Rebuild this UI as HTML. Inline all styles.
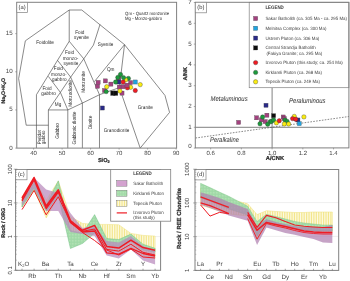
<!DOCTYPE html>
<html><head><meta charset="utf-8"><style>
html,body{margin:0;padding:0;background:#fff;width:350px;height:281px;overflow:hidden}
svg{display:block;will-change:transform}
text{font-family:"Liberation Sans", sans-serif;text-rendering:geometricPrecision}
</style></head><body>
<svg width="350" height="281" viewBox="0 0 350 281">
<rect width="350" height="281" fill="#fff"/>
<defs><pattern id="vh" width="1.7" height="4" patternUnits="userSpaceOnUse"><rect width="1.7" height="4" fill="#fdfbe6"/><rect width="0.75" height="4" fill="#f2e37c"/></pattern><pattern id="gh" width="1.6" height="1.6" patternUnits="userSpaceOnUse"><rect width="1.6" height="1.6" fill="#a2dba8"/><rect width="0.6" height="0.6" fill="#cdeccb"/></pattern><pattern id="gf" width="1.5" height="1.5" patternUnits="userSpaceOnUse"><rect width="1.5" height="1.5" fill="#9fd9a6"/><rect width="0.6" height="0.6" fill="#c8ebc6"/></pattern><clipPath id="clc"><rect x="15.6" y="169.2" width="145" height="101.1"/></clipPath><clipPath id="cld"><rect x="195" y="169.2" width="143.7" height="101.2"/></clipPath></defs>
<polyline points="26.19,125.21 18.64,78.67 25.34,40.82 69.22,10 81.77,10 124.52,44.64 164.98,95.45 169.55,112.39 140.19,148.1" fill="none" stroke="#4a4a4a" stroke-width="0.65" stroke-linejoin="round"/>
<polyline points="26.19,125.21 48.39,125.21" fill="none" stroke="#4a4a4a" stroke-width="0.65" stroke-linejoin="round"/>
<polyline points="36.45,148.1 36.45,94.69 69.22,41.28 69.22,10" fill="none" stroke="#4a4a4a" stroke-width="0.65" stroke-linejoin="round"/>
<polyline points="48.39,148.1 48.39,109.95 60.39,92.4 70.65,77.14 83.76,58.83 93.45,45.09 100,24.49" fill="none" stroke="#4a4a4a" stroke-width="0.65" stroke-linejoin="round"/>
<polyline points="48.39,76.38 60.39,92.4 67.8,109.95" fill="none" stroke="#4a4a4a" stroke-width="0.65" stroke-linejoin="round"/>
<polyline points="57.54,60.35 70.65,77.14 82.39,103.08" fill="none" stroke="#4a4a4a" stroke-width="0.65" stroke-linejoin="round"/>
<polyline points="69.22,41.28 83.76,58.83 99.49,94.69" fill="none" stroke="#4a4a4a" stroke-width="0.65" stroke-linejoin="round"/>
<polyline points="48.39,109.95 67.8,109.95 82.39,103.08 99.49,94.69 119.38,87.59" fill="none" stroke="#4a4a4a" stroke-width="0.65" stroke-linejoin="round"/>
<polyline points="67.8,148.1 67.8,109.95" fill="none" stroke="#4a4a4a" stroke-width="0.65" stroke-linejoin="round"/>
<polyline points="82.39,148.1 82.39,103.08" fill="none" stroke="#4a4a4a" stroke-width="0.65" stroke-linejoin="round"/>
<polyline points="99.49,148.1 99.49,94.69" fill="none" stroke="#4a4a4a" stroke-width="0.65" stroke-linejoin="round"/>
<polyline points="124.52,44.64 94.3,81.72" fill="none" stroke="#4a4a4a" stroke-width="0.65" stroke-linejoin="round"/>
<polyline points="124.52,44.64 119.38,87.59 140.19,148.1" fill="none" stroke="#4a4a4a" stroke-width="0.65" stroke-linejoin="round"/>
<text transform="translate(45,43.4) scale(0.88,1)" font-size="5.3" text-anchor="middle" font-weight="normal" font-style="normal" fill="#2a2a2a" dominant-baseline="central">Foidolite</text>
<text transform="translate(79.8,32.8) scale(0.88,1)" font-size="5.3" text-anchor="middle" font-weight="normal" font-style="normal" fill="#2a2a2a" dominant-baseline="central">Foid</text>
<text transform="translate(81.5,38) scale(0.88,1)" font-size="5.3" text-anchor="middle" font-weight="normal" font-style="normal" fill="#2a2a2a" dominant-baseline="central">syenite</text>
<text transform="translate(69.5,53.4) scale(0.88,1)" font-size="5.3" text-anchor="middle" font-weight="normal" font-style="normal" fill="#2a2a2a" dominant-baseline="central">Foid</text>
<text transform="translate(70.5,58.6) scale(0.88,1)" font-size="5.3" text-anchor="middle" font-weight="normal" font-style="normal" fill="#2a2a2a" dominant-baseline="central">monzo-</text>
<text transform="translate(71,64) scale(0.88,1)" font-size="5.3" text-anchor="middle" font-weight="normal" font-style="normal" fill="#2a2a2a" dominant-baseline="central">syenite</text>
<text transform="translate(58.4,69.4) scale(0.88,1)" font-size="5.3" text-anchor="middle" font-weight="normal" font-style="normal" fill="#2a2a2a" dominant-baseline="central">Foid</text>
<text transform="translate(58.8,74.6) scale(0.88,1)" font-size="5.3" text-anchor="middle" font-weight="normal" font-style="normal" fill="#2a2a2a" dominant-baseline="central">monzo-</text>
<text transform="translate(59.3,79.6) scale(0.88,1)" font-size="5.3" text-anchor="middle" font-weight="normal" font-style="normal" fill="#2a2a2a" dominant-baseline="central">gabbro</text>
<text transform="translate(47,88.9) scale(0.88,1)" font-size="5.3" text-anchor="middle" font-weight="normal" font-style="normal" fill="#2a2a2a" dominant-baseline="central">Foid</text>
<text transform="translate(48.6,94.1) scale(0.88,1)" font-size="5.3" text-anchor="middle" font-weight="normal" font-style="normal" fill="#2a2a2a" dominant-baseline="central">gabbro</text>
<text transform="translate(58,104.7) scale(0.88,1)" font-size="5.3" text-anchor="middle" font-weight="normal" font-style="normal" fill="#2a2a2a" dominant-baseline="central">Mg</text>
<text transform="translate(71,93.4) rotate(-90) scale(0.88,1)" font-size="5.3" text-anchor="middle" font-weight="normal" font-style="normal" fill="#2a2a2a" dominant-baseline="central">Monzodiorite</text>
<text transform="translate(83.6,82) rotate(-90) scale(0.88,1)" font-size="5.3" text-anchor="middle" font-weight="normal" font-style="normal" fill="#2a2a2a" dominant-baseline="central">Monzonite</text>
<text transform="translate(105.6,45.4) scale(0.88,1)" font-size="5.3" text-anchor="middle" font-weight="normal" font-style="normal" fill="#2a2a2a" dominant-baseline="central">Syenite</text>
<text transform="translate(110.7,69.6) scale(0.88,1)" font-size="5.3" text-anchor="middle" font-weight="normal" font-style="normal" fill="#2a2a2a" dominant-baseline="central">Qm</text>
<text transform="translate(145.3,107.6) scale(0.88,1)" font-size="5.3" text-anchor="middle" font-weight="normal" font-style="normal" fill="#2a2a2a" dominant-baseline="central">Granite</text>
<text transform="translate(116.5,131) scale(0.88,1)" font-size="5.3" text-anchor="middle" font-weight="normal" font-style="normal" fill="#2a2a2a" dominant-baseline="central">Granodiorite</text>
<text transform="translate(91.1,122.5) rotate(-90) scale(0.88,1)" font-size="5.3" text-anchor="middle" font-weight="normal" font-style="normal" fill="#2a2a2a" dominant-baseline="central">Diorite</text>
<text transform="translate(75.4,128) rotate(-90) scale(0.88,1)" font-size="5.3" text-anchor="middle" font-weight="normal" font-style="normal" fill="#2a2a2a" dominant-baseline="central">Gabbroic diorite</text>
<text transform="translate(57.8,131) rotate(-90) scale(0.88,1)" font-size="5.3" text-anchor="middle" font-weight="normal" font-style="normal" fill="#2a2a2a" dominant-baseline="central">Gabbro</text>
<text transform="translate(40.3,137.3) rotate(-90) scale(0.9,1)" font-size="4.9" text-anchor="middle" font-weight="normal" font-style="normal" fill="#2a2a2a" dominant-baseline="central">Peridot</text>
<text transform="translate(44.8,137.3) rotate(-90) scale(0.9,1)" font-size="4.9" text-anchor="middle" font-weight="normal" font-style="normal" fill="#2a2a2a" dominant-baseline="central">gabbro</text>
<text transform="translate(125.1,13.1) scale(0.92,1)" font-size="4.6" text-anchor="start" font-weight="normal" font-style="normal" fill="#2a2a2a" dominant-baseline="central">Qm - Quartz monzonite</text>
<text transform="translate(125.1,18.9) scale(0.92,1)" font-size="4.6" text-anchor="start" font-weight="normal" font-style="normal" fill="#2a2a2a" dominant-baseline="central">Mg - Monzo-gabbro</text>
<rect x="16.8" y="2.3" width="159.8" height="145.8" fill="none" stroke="#808080" stroke-width="1"/>
<rect x="16.8" y="2.3" width="10.7" height="10.2" fill="#fff" stroke="#808080" stroke-width="0.7"/>
<text transform="translate(22.15,7.6)" font-size="5.8" text-anchor="middle" font-weight="normal" font-style="normal" fill="#333" dominant-baseline="central">(a)</text>
<line x1="15.2" y1="148.1" x2="16.8" y2="148.1" stroke="#777" stroke-width="0.6"/>
<text transform="translate(12.7,148.1)" font-size="6.2" text-anchor="end" font-weight="normal" font-style="normal" fill="#444" dominant-baseline="central">0</text>
<line x1="15.2" y1="109.95" x2="16.8" y2="109.95" stroke="#777" stroke-width="0.6"/>
<text transform="translate(12.7,109.95)" font-size="6.2" text-anchor="end" font-weight="normal" font-style="normal" fill="#444" dominant-baseline="central">5</text>
<line x1="15.2" y1="71.8" x2="16.8" y2="71.8" stroke="#777" stroke-width="0.6"/>
<text transform="translate(12.7,71.8)" font-size="6.2" text-anchor="end" font-weight="normal" font-style="normal" fill="#444" dominant-baseline="central">10</text>
<line x1="15.2" y1="33.65" x2="16.8" y2="33.65" stroke="#777" stroke-width="0.6"/>
<text transform="translate(12.7,33.65)" font-size="6.2" text-anchor="end" font-weight="normal" font-style="normal" fill="#444" dominant-baseline="central">15</text>
<line x1="33.6" y1="148.1" x2="33.6" y2="149.6" stroke="#777" stroke-width="0.6"/>
<text transform="translate(33.6,154)" font-size="6" text-anchor="middle" font-weight="normal" font-style="normal" fill="#444" dominant-baseline="central">40</text>
<line x1="62.1" y1="148.1" x2="62.1" y2="149.6" stroke="#777" stroke-width="0.6"/>
<text transform="translate(62.1,154)" font-size="6" text-anchor="middle" font-weight="normal" font-style="normal" fill="#444" dominant-baseline="central">50</text>
<line x1="90.6" y1="148.1" x2="90.6" y2="149.6" stroke="#777" stroke-width="0.6"/>
<text transform="translate(90.6,154)" font-size="6" text-anchor="middle" font-weight="normal" font-style="normal" fill="#444" dominant-baseline="central">60</text>
<line x1="119.1" y1="148.1" x2="119.1" y2="149.6" stroke="#777" stroke-width="0.6"/>
<text transform="translate(119.1,154)" font-size="6" text-anchor="middle" font-weight="normal" font-style="normal" fill="#444" dominant-baseline="central">70</text>
<line x1="147.6" y1="148.1" x2="147.6" y2="149.6" stroke="#777" stroke-width="0.6"/>
<text transform="translate(147.6,154)" font-size="6" text-anchor="middle" font-weight="normal" font-style="normal" fill="#444" dominant-baseline="central">80</text>
<line x1="176.1" y1="148.1" x2="176.1" y2="149.6" stroke="#777" stroke-width="0.6"/>
<text transform="translate(176.1,154)" font-size="6" text-anchor="middle" font-weight="normal" font-style="normal" fill="#444" dominant-baseline="central">90</text>
<text x="97.9" y="161.6" font-size="5.6" font-weight="bold" fill="#2a2a2a" stroke="#2a2a2a" stroke-width="0.22">SiO<tspan font-size="3.8" dy="0.9">2</tspan></text>
<text transform="translate(4.9,90.8) rotate(-90)" font-size="5.2" text-anchor="middle" font-weight="bold" fill="#2a2a2a" stroke="#2a2a2a" stroke-width="0.22">Na<tspan font-size="3.6" dy="0.9">2</tspan><tspan dy="-0.9">O+K</tspan><tspan font-size="3.6" dy="0.9">2</tspan><tspan dy="-0.9">O</tspan></text>
<rect x="96.05" y="80.35" width="4.1" height="4.1" fill="#a3417f" stroke="#444" stroke-width="0.3"/>
<rect x="95.45" y="84.25" width="4.1" height="4.1" fill="#a3417f" stroke="#444" stroke-width="0.3"/>
<rect x="103.35" y="78.85" width="4.1" height="4.1" fill="#a3417f" stroke="#444" stroke-width="0.3"/>
<rect x="108.85" y="82.05" width="4.1" height="4.1" fill="#a3417f" stroke="#444" stroke-width="0.3"/>
<rect x="102.45" y="88.45" width="4.1" height="4.1" fill="#a3417f" stroke="#444" stroke-width="0.3"/>
<rect x="117.25" y="85.05" width="4.1" height="4.1" fill="#a3417f" stroke="#444" stroke-width="0.3"/>
<rect x="121.05" y="84.65" width="4.1" height="4.1" fill="#a3417f" stroke="#444" stroke-width="0.3"/>
<rect x="128.55" y="80.55" width="4.1" height="4.1" fill="#a3417f" stroke="#444" stroke-width="0.3"/>
<rect x="119.95" y="91.05" width="4.1" height="4.1" fill="#a3417f" stroke="#444" stroke-width="0.3"/>
<rect x="116.35" y="76.15" width="4.1" height="4.1" fill="#a3417f" stroke="#444" stroke-width="0.3"/>
<rect x="100.35" y="105.95" width="4.1" height="4.1" fill="#2a2a88" stroke="#444" stroke-width="0.3"/>
<rect x="116.75" y="79.95" width="4.1" height="4.1" fill="#2a2a88" stroke="#444" stroke-width="0.3"/>
<rect x="133.25" y="79.95" width="4.1" height="4.1" fill="#1fa3e0" stroke="#444" stroke-width="0.3"/>
<circle cx="120.5" cy="74.5" r="2.2" fill="#1d9a3c" stroke="#333" stroke-width="0.35"/>
<circle cx="117.8" cy="77.5" r="2.2" fill="#1d9a3c" stroke="#333" stroke-width="0.35"/>
<circle cx="128.4" cy="78.4" r="2.2" fill="#1d9a3c" stroke="#333" stroke-width="0.35"/>
<circle cx="106.2" cy="91.6" r="2.2" fill="#1d9a3c" stroke="#333" stroke-width="0.35"/>
<circle cx="115.6" cy="82" r="2.2" fill="#1d9a3c" stroke="#333" stroke-width="0.35"/>
<circle cx="106.7" cy="86.7" r="2.2" fill="#f9ec12" stroke="#333" stroke-width="0.35"/>
<circle cx="125.7" cy="79.9" r="2.2" fill="#f9ec12" stroke="#333" stroke-width="0.35"/>
<circle cx="140.2" cy="84.6" r="2.2" fill="#f9ec12" stroke="#333" stroke-width="0.35"/>
<circle cx="130.6" cy="87.3" r="2.2" fill="#f9ec12" stroke="#333" stroke-width="0.35"/>
<circle cx="123.1" cy="82" r="2.2" fill="#ee1c24" stroke="#333" stroke-width="0.35"/>
<circle cx="127.4" cy="87.8" r="2.2" fill="#ee1c24" stroke="#333" stroke-width="0.35"/>
<circle cx="135.3" cy="90.5" r="2.2" fill="#ee1c24" stroke="#333" stroke-width="0.35"/>
<circle cx="119.9" cy="91" r="2.2" fill="#f9ec12" stroke="#333" stroke-width="0.35"/>
<circle cx="123.5" cy="77.6" r="2.2" fill="#1d9a3c" stroke="#333" stroke-width="0.35"/>
<rect x="124.95" y="83.15" width="4.1" height="4.1" fill="#a3417f" stroke="#444" stroke-width="0.3"/>
<rect x="110.65" y="90.95" width="4.5" height="4.5" fill="#0d0d0d" stroke="#444" stroke-width="0.3"/>
<rect x="113.35" y="90.95" width="4.5" height="4.5" fill="#0d0d0d" stroke="#444" stroke-width="0.3"/>
<line x1="195.3" y1="127.3" x2="349" y2="127.3" stroke="#4a4a4a" stroke-width="0.7"/>
<line x1="272.1" y1="87.7" x2="272.1" y2="147.9" stroke="#4a4a4a" stroke-width="0.7"/>
<line x1="195.5" y1="138" x2="349" y2="116.5" stroke="#555" stroke-width="0.7" stroke-dasharray="1.6,1.3"/>
<text transform="translate(229.1,99.4) scale(0.85,1)" font-size="7" text-anchor="middle" font-weight="normal" font-style="italic" fill="#2a2a2a" dominant-baseline="central">Metaluminous</text>
<text transform="translate(307.3,101.6) scale(0.85,1)" font-size="7" text-anchor="middle" font-weight="normal" font-style="italic" fill="#2a2a2a" dominant-baseline="central">Peraluminous</text>
<text transform="translate(224.5,140.8) scale(0.85,1)" font-size="6.9" text-anchor="middle" font-weight="normal" font-style="italic" fill="#2a2a2a" dominant-baseline="central">Peralkaline</text>
<rect x="236.55" y="120.35" width="4.1" height="4.1" fill="#a3417f" stroke="#444" stroke-width="0.3"/>
<rect x="254.55" y="115.75" width="4.1" height="4.1" fill="#a3417f" stroke="#444" stroke-width="0.3"/>
<rect x="264.85" y="113.15" width="4.1" height="4.1" fill="#a3417f" stroke="#444" stroke-width="0.3"/>
<rect x="259.35" y="117.85" width="4.1" height="4.1" fill="#a3417f" stroke="#444" stroke-width="0.3"/>
<rect x="263.15" y="119.55" width="4.1" height="4.1" fill="#a3417f" stroke="#444" stroke-width="0.3"/>
<rect x="281.15" y="114.95" width="4.1" height="4.1" fill="#a3417f" stroke="#444" stroke-width="0.3"/>
<rect x="282.25" y="116.55" width="4.1" height="4.1" fill="#a3417f" stroke="#444" stroke-width="0.3"/>
<rect x="263.95" y="103.25" width="4.1" height="4.1" fill="#2a2a88" stroke="#444" stroke-width="0.3"/>
<rect x="295.85" y="117.95" width="4.1" height="4.1" fill="#2a2a88" stroke="#444" stroke-width="0.3"/>
<rect x="297.25" y="121.55" width="4.1" height="4.1" fill="#1fa3e0" stroke="#444" stroke-width="0.3"/>
<rect x="271.55" y="113.65" width="4.1" height="4.1" fill="#0d0d0d" stroke="#444" stroke-width="0.3"/>
<circle cx="262.6" cy="117" r="2.2" fill="#1d9a3c" stroke="#333" stroke-width="0.35"/>
<circle cx="260" cy="123.8" r="2.2" fill="#1d9a3c" stroke="#333" stroke-width="0.35"/>
<circle cx="267.7" cy="124.2" r="2.2" fill="#1d9a3c" stroke="#333" stroke-width="0.35"/>
<circle cx="270.3" cy="121.6" r="2.2" fill="#1d9a3c" stroke="#333" stroke-width="0.35"/>
<circle cx="271.4" cy="121.4" r="2.2" fill="#1d9a3c" stroke="#333" stroke-width="0.35"/>
<circle cx="273.6" cy="120" r="2.2" fill="#1d9a3c" stroke="#333" stroke-width="0.35"/>
<circle cx="285" cy="120" r="2.2" fill="#1d9a3c" stroke="#333" stroke-width="0.35"/>
<circle cx="287.1" cy="121.4" r="2.2" fill="#1d9a3c" stroke="#333" stroke-width="0.35"/>
<circle cx="276.4" cy="122.9" r="2.2" fill="#f9ec12" stroke="#333" stroke-width="0.35"/>
<circle cx="284.3" cy="124" r="2.2" fill="#f9ec12" stroke="#333" stroke-width="0.35"/>
<circle cx="288.6" cy="124" r="2.2" fill="#f9ec12" stroke="#333" stroke-width="0.35"/>
<circle cx="294.3" cy="116.4" r="2.2" fill="#f9ec12" stroke="#333" stroke-width="0.35"/>
<circle cx="303.9" cy="116.9" r="2.2" fill="#f9ec12" stroke="#333" stroke-width="0.35"/>
<circle cx="279.3" cy="120.7" r="2.2" fill="#ee1c24" stroke="#333" stroke-width="0.35"/>
<circle cx="292.6" cy="118.6" r="2.2" fill="#ee1c24" stroke="#333" stroke-width="0.35"/>
<circle cx="295.7" cy="119.3" r="2.2" fill="#ee1c24" stroke="#333" stroke-width="0.35"/>
<rect x="249.2" y="2.3" width="99.7" height="85.4" fill="#fff" stroke="#808080" stroke-width="0.7"/>
<text transform="translate(265.4,8.4) scale(0.88,1)" font-size="5" text-anchor="start" font-weight="bold" font-style="normal" fill="#333" dominant-baseline="central">LEGEND</text>
<rect x="253.5" y="16.4" width="4.2" height="4.2" fill="#a3417f" stroke="#444" stroke-width="0.3"/>
<text transform="translate(265.4,18.5) scale(0.95,1)" font-size="4.65" text-anchor="start" font-weight="normal" font-style="normal" fill="#404040" dominant-baseline="central">Sakar Batholith (ca. 305 Ma - ca. 295 Ma)</text>
<rect x="253.5" y="26.2" width="4.2" height="4.2" fill="#1fa3e0" stroke="#444" stroke-width="0.3"/>
<text transform="translate(265.4,28.3) scale(0.95,1)" font-size="4.65" text-anchor="start" font-weight="normal" font-style="normal" fill="#404040" dominant-baseline="central">Melnitsa Complex (ca. 300 Ma)</text>
<rect x="253.5" y="36" width="4.2" height="4.2" fill="#2a2a88" stroke="#444" stroke-width="0.3"/>
<text transform="translate(265.4,38.1) scale(0.95,1)" font-size="4.65" text-anchor="start" font-weight="normal" font-style="normal" fill="#404040" dominant-baseline="central">Ustrem Pluton (ca. 306 Ma)</text>
<rect x="253.5" y="45.8" width="4.2" height="4.2" fill="#0d0d0d" stroke="#444" stroke-width="0.3"/>
<text transform="translate(265.4,47.8) scale(0.95,1)" font-size="4.65" text-anchor="start" font-weight="normal" font-style="normal" fill="#404040" dominant-baseline="central">Central Strandja Batholith</text>
<text transform="translate(266.4,53) scale(0.95,1)" font-size="4.65" text-anchor="start" font-weight="normal" font-style="normal" fill="#404040" dominant-baseline="central">(Fakiya Granite; ca. 295 Ma)</text>
<circle cx="255.6" cy="62.6" r="2.2" fill="#ee1c24" stroke="#333" stroke-width="0.35"/>
<text transform="translate(265.4,62.6) scale(0.95,1)" font-size="4.65" text-anchor="start" font-weight="normal" font-style="normal" fill="#404040" dominant-baseline="central">Izvorovo Pluton (this study; ca. 254 Ma)</text>
<circle cx="255.6" cy="72.4" r="2.2" fill="#1d9a3c" stroke="#333" stroke-width="0.35"/>
<text transform="translate(265.4,72.4) scale(0.95,1)" font-size="4.65" text-anchor="start" font-weight="normal" font-style="normal" fill="#404040" dominant-baseline="central">Kirklareli Pluton (ca. 268 Ma)</text>
<circle cx="255.6" cy="81.8" r="2.2" fill="#f9ec12" stroke="#333" stroke-width="0.35"/>
<text transform="translate(265.4,81.8) scale(0.95,1)" font-size="4.65" text-anchor="start" font-weight="normal" font-style="normal" fill="#404040" dominant-baseline="central">Tepecik Pluton (ca. 249 Ma)</text>
<rect x="195.3" y="2.3" width="153.6" height="145.6" fill="none" stroke="#808080" stroke-width="1"/>
<rect x="195.3" y="2.3" width="11.2" height="10.5" fill="#fff" stroke="#808080" stroke-width="0.7"/>
<text transform="translate(200.9,7.7)" font-size="5.8" text-anchor="middle" font-weight="normal" font-style="normal" fill="#333" dominant-baseline="central">(b)</text>
<line x1="193.8" y1="148.1" x2="195.3" y2="148.1" stroke="#777" stroke-width="0.6"/>
<text transform="translate(191.6,146.9)" font-size="6.2" text-anchor="end" font-weight="normal" font-style="normal" fill="#444" dominant-baseline="central">0</text>
<line x1="193.8" y1="127.3" x2="195.3" y2="127.3" stroke="#777" stroke-width="0.6"/>
<text transform="translate(191.6,127.3)" font-size="6.2" text-anchor="end" font-weight="normal" font-style="normal" fill="#444" dominant-baseline="central">1</text>
<line x1="193.8" y1="106.5" x2="195.3" y2="106.5" stroke="#777" stroke-width="0.6"/>
<text transform="translate(191.6,106.5)" font-size="6.2" text-anchor="end" font-weight="normal" font-style="normal" fill="#444" dominant-baseline="central">2</text>
<line x1="193.8" y1="85.7" x2="195.3" y2="85.7" stroke="#777" stroke-width="0.6"/>
<text transform="translate(191.6,85.7)" font-size="6.2" text-anchor="end" font-weight="normal" font-style="normal" fill="#444" dominant-baseline="central">3</text>
<line x1="193.8" y1="64.9" x2="195.3" y2="64.9" stroke="#777" stroke-width="0.6"/>
<text transform="translate(191.6,64.9)" font-size="6.2" text-anchor="end" font-weight="normal" font-style="normal" fill="#444" dominant-baseline="central">4</text>
<line x1="193.8" y1="44.1" x2="195.3" y2="44.1" stroke="#777" stroke-width="0.6"/>
<text transform="translate(191.6,44.1)" font-size="6.2" text-anchor="end" font-weight="normal" font-style="normal" fill="#444" dominant-baseline="central">5</text>
<line x1="193.8" y1="23.3" x2="195.3" y2="23.3" stroke="#777" stroke-width="0.6"/>
<text transform="translate(191.6,23.3)" font-size="6.2" text-anchor="end" font-weight="normal" font-style="normal" fill="#444" dominant-baseline="central">6</text>
<line x1="193.8" y1="2.5" x2="195.3" y2="2.5" stroke="#777" stroke-width="0.6"/>
<text transform="translate(191.6,2.5)" font-size="6.2" text-anchor="end" font-weight="normal" font-style="normal" fill="#444" dominant-baseline="central">7</text>
<line x1="210.66" y1="147.9" x2="210.66" y2="149.4" stroke="#777" stroke-width="0.6"/>
<text transform="translate(210.66,153.8)" font-size="6" text-anchor="middle" font-weight="normal" font-style="normal" fill="#444" dominant-baseline="central">0.6</text>
<line x1="241.38" y1="147.9" x2="241.38" y2="149.4" stroke="#777" stroke-width="0.6"/>
<text transform="translate(241.38,153.8)" font-size="6" text-anchor="middle" font-weight="normal" font-style="normal" fill="#444" dominant-baseline="central">0.8</text>
<line x1="272.1" y1="147.9" x2="272.1" y2="149.4" stroke="#777" stroke-width="0.6"/>
<text transform="translate(272.1,153.8)" font-size="6" text-anchor="middle" font-weight="normal" font-style="normal" fill="#444" dominant-baseline="central">1.0</text>
<line x1="302.82" y1="147.9" x2="302.82" y2="149.4" stroke="#777" stroke-width="0.6"/>
<text transform="translate(302.82,153.8)" font-size="6" text-anchor="middle" font-weight="normal" font-style="normal" fill="#444" dominant-baseline="central">1.2</text>
<line x1="333.54" y1="147.9" x2="333.54" y2="149.4" stroke="#777" stroke-width="0.6"/>
<text transform="translate(333.54,153.8)" font-size="6" text-anchor="middle" font-weight="normal" font-style="normal" fill="#444" dominant-baseline="central">1.4</text>
<text transform="translate(274.9,159.3)" font-size="5.8" text-anchor="middle" font-weight="bold" font-style="normal" fill="#2a2a2a" dominant-baseline="central" stroke="#2a2a2a" stroke-width="0.22">A/CNK</text>
<text transform="translate(185.7,73.8) rotate(-90)" font-size="5.5" text-anchor="middle" font-weight="bold" font-style="normal" fill="#2a2a2a" dominant-baseline="central" stroke="#2a2a2a" stroke-width="0.22">A/NK</text>
<line x1="15.6" y1="203" x2="160.6" y2="203" stroke="#e2e2e2" stroke-width="0.6"/>
<line x1="15.6" y1="236.6" x2="160.6" y2="236.6" stroke="#e2e2e2" stroke-width="0.6"/>
<g clip-path="url(#clc)">
<polygon points="22,197 34.1,178 46.2,200 58.3,181 70.4,216.6 82.5,223.4 94.6,224.4 106.7,224.4 118.8,224.8 130.9,233.4 143,235.4 155.1,236.1 155.1,258 143,256 130.9,247 118.8,252 106.7,250 94.6,232 82.5,236 70.4,232 58.3,197 46.2,218 34.1,190 22,207" fill="url(#vh)" stroke="#efe07a" stroke-width="0.5"/>
<polygon points="22,202 34.1,183 46.2,205 58.3,180.8 70.4,230.5 82.5,233.2 94.6,214.6 106.7,238.5 118.8,239.5 130.9,234.1 143,244.2 155.1,248.3 155.1,252 143,250 130.9,241 118.8,247 106.7,245 94.6,233.2 82.5,243.5 70.4,248.5 58.3,196 46.2,211 34.1,189 22,207" fill="url(#gf)" stroke="#62b87a" stroke-width="0.4"/>
<polygon points="22,199 34.1,177.8 46.2,189.6 58.3,193 70.4,213 82.5,228 94.6,226 106.7,241 118.8,242.5 130.9,236 143,246 155.1,250 155.1,264.5 143,260.4 130.9,249.5 118.8,258.4 106.7,255.4 94.6,236 82.5,234 70.4,232 58.3,211 46.2,211 34.1,188.6 22,206" fill="#b889bd" opacity="0.72"/>
<polyline points="22,209.6 34.1,190.4 46.2,214.9 58.3,196.8 70.4,222 82.5,232.5 94.6,240.5 106.7,250 118.8,255 130.9,249 143,257 155.1,258" fill="none" stroke="#ee1c24" stroke-width="1.0" stroke-linejoin="round"/>
<polyline points="22,198 34.1,177.5 46.2,206 58.3,189.8 70.4,220.5 82.5,230.3 94.6,225.4 106.7,246.4 118.8,248.1 130.9,240.2 143,247.6 155.1,250.3" fill="none" stroke="#ee1c24" stroke-width="1.5" stroke-linejoin="round"/>
<polyline points="22,199.3 34.1,178.8 46.2,207.3 58.3,190.8 70.4,221.5 82.5,231.3 94.6,229 106.7,249.4 118.8,251.1 130.9,244.2 143,252.3 155.1,255" fill="none" stroke="#ee1c24" stroke-width="1.0" stroke-linejoin="round"/>
<polyline points="22,200.8 34.1,180 46.2,208.6 58.3,192 70.4,222.5 82.5,232 94.6,231 106.7,252.9 118.8,254.1 130.9,248.3 143,253.5 155.1,256" fill="none" stroke="#ee1c24" stroke-width="1.3" stroke-linejoin="round"/>
</g>
<rect x="15.6" y="169.5" width="145" height="100.8" fill="none" stroke="#808080" stroke-width="1"/>
<rect x="110.7" y="169.5" width="60" height="51.7" fill="#fff" stroke="#808080" stroke-width="0.8"/>
<text transform="translate(142.4,173.8) scale(0.88,1)" font-size="5" text-anchor="middle" font-weight="bold" font-style="normal" fill="#333" dominant-baseline="central">LEGEND</text>
<rect x="116.7" y="180.5" width="10.3" height="5.7" fill="#d3a2cf" stroke="#555" stroke-width="0.35"/>
<rect x="116.7" y="190.3" width="10.3" height="5.9" fill="url(#gh)" stroke="#555" stroke-width="0.35"/>
<rect x="116.7" y="200.4" width="10.3" height="5.9" fill="url(#vh)" stroke="#555" stroke-width="0.35"/>
<line x1="116.7" y1="212.9" x2="127" y2="212.9" stroke="#ee1c24" stroke-width="1.2"/>
<text transform="translate(133.2,183.4) scale(0.95,1)" font-size="4.65" text-anchor="start" font-weight="normal" font-style="normal" fill="#404040" dominant-baseline="central">Sakar Batholith</text>
<text transform="translate(133.2,193.3) scale(0.95,1)" font-size="4.65" text-anchor="start" font-weight="normal" font-style="normal" fill="#404040" dominant-baseline="central">Kirklareli Pluton</text>
<text transform="translate(133.2,203.4) scale(0.95,1)" font-size="4.65" text-anchor="start" font-weight="normal" font-style="normal" fill="#404040" dominant-baseline="central">Tepecik Pluton</text>
<text transform="translate(133.2,212.6) scale(0.95,1)" font-size="4.65" text-anchor="start" font-weight="normal" font-style="normal" fill="#404040" dominant-baseline="central">Izvorovo Pluton</text>
<text transform="translate(133.2,217.8) scale(0.95,1)" font-size="4.65" text-anchor="start" font-weight="normal" font-style="normal" fill="#404040" dominant-baseline="central">(this study)</text>
<rect x="15.6" y="169.5" width="11.4" height="10.3" fill="#fff" stroke="#808080" stroke-width="0.7"/>
<text transform="translate(21.3,174.8)" font-size="5.8" text-anchor="middle" font-weight="normal" font-style="normal" fill="#333" dominant-baseline="central">(c)</text>
<line x1="13.8" y1="270.3" x2="17.4" y2="270.3" stroke="#777" stroke-width="0.6"/>
<line x1="15.6" y1="260.16" x2="16.9" y2="260.16" stroke="#888" stroke-width="0.5"/>
<line x1="15.6" y1="254.22" x2="16.9" y2="254.22" stroke="#888" stroke-width="0.5"/>
<line x1="15.6" y1="250.01" x2="16.9" y2="250.01" stroke="#888" stroke-width="0.5"/>
<line x1="15.6" y1="246.74" x2="16.9" y2="246.74" stroke="#888" stroke-width="0.5"/>
<line x1="15.6" y1="244.08" x2="16.9" y2="244.08" stroke="#888" stroke-width="0.5"/>
<line x1="15.6" y1="241.82" x2="16.9" y2="241.82" stroke="#888" stroke-width="0.5"/>
<line x1="15.6" y1="239.87" x2="16.9" y2="239.87" stroke="#888" stroke-width="0.5"/>
<line x1="15.6" y1="238.14" x2="16.9" y2="238.14" stroke="#888" stroke-width="0.5"/>
<line x1="13.8" y1="236.6" x2="17.4" y2="236.6" stroke="#777" stroke-width="0.6"/>
<line x1="15.6" y1="226.46" x2="16.9" y2="226.46" stroke="#888" stroke-width="0.5"/>
<line x1="15.6" y1="220.52" x2="16.9" y2="220.52" stroke="#888" stroke-width="0.5"/>
<line x1="15.6" y1="216.31" x2="16.9" y2="216.31" stroke="#888" stroke-width="0.5"/>
<line x1="15.6" y1="213.04" x2="16.9" y2="213.04" stroke="#888" stroke-width="0.5"/>
<line x1="15.6" y1="210.38" x2="16.9" y2="210.38" stroke="#888" stroke-width="0.5"/>
<line x1="15.6" y1="208.12" x2="16.9" y2="208.12" stroke="#888" stroke-width="0.5"/>
<line x1="15.6" y1="206.17" x2="16.9" y2="206.17" stroke="#888" stroke-width="0.5"/>
<line x1="15.6" y1="204.44" x2="16.9" y2="204.44" stroke="#888" stroke-width="0.5"/>
<line x1="13.8" y1="202.9" x2="17.4" y2="202.9" stroke="#777" stroke-width="0.6"/>
<line x1="15.6" y1="192.76" x2="16.9" y2="192.76" stroke="#888" stroke-width="0.5"/>
<line x1="15.6" y1="186.82" x2="16.9" y2="186.82" stroke="#888" stroke-width="0.5"/>
<line x1="15.6" y1="182.61" x2="16.9" y2="182.61" stroke="#888" stroke-width="0.5"/>
<line x1="15.6" y1="179.34" x2="16.9" y2="179.34" stroke="#888" stroke-width="0.5"/>
<line x1="15.6" y1="176.68" x2="16.9" y2="176.68" stroke="#888" stroke-width="0.5"/>
<line x1="15.6" y1="174.42" x2="16.9" y2="174.42" stroke="#888" stroke-width="0.5"/>
<line x1="15.6" y1="172.47" x2="16.9" y2="172.47" stroke="#888" stroke-width="0.5"/>
<line x1="15.6" y1="170.74" x2="16.9" y2="170.74" stroke="#888" stroke-width="0.5"/>
<line x1="13.8" y1="169.2" x2="17.4" y2="169.2" stroke="#777" stroke-width="0.6"/>
<text transform="translate(10.6,270.3) rotate(-90)" font-size="6" text-anchor="middle" font-weight="normal" font-style="normal" fill="#444" dominant-baseline="central">0.1</text>
<text transform="translate(10.6,236.6) rotate(-90)" font-size="6" text-anchor="middle" font-weight="normal" font-style="normal" fill="#444" dominant-baseline="central">1</text>
<text transform="translate(10.6,202.9) rotate(-90)" font-size="6" text-anchor="middle" font-weight="normal" font-style="normal" fill="#444" dominant-baseline="central">10</text>
<text transform="translate(10.6,169.2) rotate(-90)" font-size="6" text-anchor="middle" font-weight="normal" font-style="normal" fill="#444" dominant-baseline="central">100</text>
<line x1="22" y1="268.7" x2="22" y2="270.3" stroke="#666" stroke-width="0.6"/>
<line x1="34.1" y1="268.7" x2="34.1" y2="270.3" stroke="#666" stroke-width="0.6"/>
<line x1="46.2" y1="268.7" x2="46.2" y2="270.3" stroke="#666" stroke-width="0.6"/>
<line x1="58.3" y1="268.7" x2="58.3" y2="270.3" stroke="#666" stroke-width="0.6"/>
<line x1="70.4" y1="268.7" x2="70.4" y2="270.3" stroke="#666" stroke-width="0.6"/>
<line x1="82.5" y1="268.7" x2="82.5" y2="270.3" stroke="#666" stroke-width="0.6"/>
<line x1="94.6" y1="268.7" x2="94.6" y2="270.3" stroke="#666" stroke-width="0.6"/>
<line x1="106.7" y1="268.7" x2="106.7" y2="270.3" stroke="#666" stroke-width="0.6"/>
<line x1="118.8" y1="268.7" x2="118.8" y2="270.3" stroke="#666" stroke-width="0.6"/>
<line x1="130.9" y1="268.7" x2="130.9" y2="270.3" stroke="#666" stroke-width="0.6"/>
<line x1="143" y1="268.7" x2="143" y2="270.3" stroke="#666" stroke-width="0.6"/>
<line x1="155.1" y1="268.7" x2="155.1" y2="270.3" stroke="#666" stroke-width="0.6"/>
<text x="23.7" y="265.6" font-size="6.2" text-anchor="middle" fill="#444">K<tspan font-size="4" dy="1">2</tspan><tspan dy="-1">O</tspan></text>
<text x="32.2" y="277.8" font-size="6.2" text-anchor="middle" fill="#444">Rb</text>
<text x="45.5" y="265.6" font-size="6.2" text-anchor="middle" fill="#444">Ba</text>
<text x="58.3" y="277.8" font-size="6.2" text-anchor="middle" fill="#444">Th</text>
<text x="70.4" y="265.6" font-size="6.2" text-anchor="middle" fill="#444">Ta</text>
<text x="82.5" y="277.8" font-size="6.2" text-anchor="middle" fill="#444">Nb</text>
<text x="94.6" y="265.6" font-size="6.2" text-anchor="middle" fill="#444">Ce</text>
<text x="106.7" y="277.8" font-size="6.2" text-anchor="middle" fill="#444">Hf</text>
<text x="118.8" y="265.6" font-size="6.2" text-anchor="middle" fill="#444">Zr</text>
<text x="130.9" y="277.8" font-size="6.2" text-anchor="middle" fill="#444">Sm</text>
<text x="143" y="265.6" font-size="6.2" text-anchor="middle" fill="#444">Y</text>
<text x="155.1" y="277.8" font-size="6.2" text-anchor="middle" fill="#444">Yb</text>
<text transform="translate(4.1,222.7) rotate(-90)" font-size="5.4" text-anchor="middle" font-weight="bold" font-style="normal" fill="#2a2a2a" dominant-baseline="central" stroke="#2a2a2a" stroke-width="0.22">Rock / ORG</text>
<line x1="195" y1="202.6" x2="338.7" y2="202.6" stroke="#e2e2e2" stroke-width="0.6"/>
<line x1="195" y1="236.4" x2="338.7" y2="236.4" stroke="#e2e2e2" stroke-width="0.6"/>
<g clip-path="url(#cld)">
<polygon points="200.6,188 210.01,192 219.42,196 228.83,199 247.65,203.8 257.06,214.6 266.47,210.7 275.88,211.5 285.29,212 294.7,212.5 304.11,212.5 313.52,212 322.93,212 332.34,212 332.34,232 322.93,232 313.52,231 304.11,230 294.7,229 285.29,228 275.88,226 266.47,224 257.06,240 247.65,216 228.83,214 219.42,211 210.01,208 200.6,205" fill="url(#vh)" stroke="#efe07a" stroke-width="0.5"/>
<polygon points="200.6,183.3 210.01,187.6 219.42,192 228.83,196.3 247.65,206.2 257.06,221.5 266.47,214.3 275.88,216.5 285.29,219 294.7,221.4 304.11,223 313.52,224 322.93,225 332.34,225 332.34,231 322.93,231 313.52,231 304.11,230 294.7,229 285.29,227 275.88,225 266.47,222 257.06,236 247.65,215 228.83,209 219.42,205 210.01,201 200.6,198" fill="url(#gf)" stroke="#6fbf79" stroke-width="0.35"/>
<polygon points="200.6,192.2 210.01,195 219.42,198 228.83,202 247.65,209 257.06,226 266.47,219 275.88,222 285.29,224 294.7,226 304.11,227 313.52,227 322.93,227 332.34,225 332.34,243 322.93,242.5 313.52,239 304.11,237 294.7,234.8 285.29,233 275.88,230.3 266.47,227.4 257.06,245 247.65,220.7 228.83,215.4 219.42,211.5 210.01,208 200.6,204.7" fill="#b07fb0" opacity="0.72"/>
<polyline points="200.6,196.9 210.01,200.4 219.42,203.9 228.83,207.4" fill="none" stroke="#ee1c24" stroke-width="1.2" stroke-linejoin="round"/>
<polyline points="200.6,202.9 210.01,205.6 219.42,209.5 228.83,213.6" fill="none" stroke="#ee1c24" stroke-width="1.2" stroke-linejoin="round"/>
<polyline points="200.6,205 210.01,216.1 219.42,212.4 228.83,213.7" fill="none" stroke="#ee1c24" stroke-width="1.0" stroke-linejoin="round"/>
<polyline points="247.65,212.4 257.06,227.4 266.47,215.4 275.88,217.8 285.29,221.4 294.7,225 304.11,226.3 313.52,227 322.93,227.5 332.34,227.5" fill="none" stroke="#ee1c24" stroke-width="1.1" stroke-linejoin="round"/>
<polyline points="247.65,214.6 257.06,230.3 266.47,222.4 275.88,224.5 285.29,226.5 294.7,228.7 304.11,231.1 313.52,232 322.93,232.4 332.34,232.4" fill="none" stroke="#ee1c24" stroke-width="1.5" stroke-linejoin="round"/>
<polyline points="247.65,218.5 257.06,239.1 266.47,223.5 275.88,226 285.29,228 294.7,230.5 304.11,232.5 313.52,233.5 322.93,234 332.34,234" fill="none" stroke="#ee1c24" stroke-width="0.9" stroke-linejoin="round"/>
</g>
<rect x="195" y="169.5" width="143.7" height="100.9" fill="none" stroke="#808080" stroke-width="1"/>
<rect x="195" y="169.5" width="11" height="10.4" fill="#fff" stroke="#808080" stroke-width="0.7"/>
<text transform="translate(200.6,174.9)" font-size="5.8" text-anchor="middle" font-weight="normal" font-style="normal" fill="#333" dominant-baseline="central">(d)</text>
<line x1="193.2" y1="270.4" x2="196.8" y2="270.4" stroke="#777" stroke-width="0.6"/>
<line x1="195" y1="260.25" x2="196.3" y2="260.25" stroke="#888" stroke-width="0.5"/>
<line x1="195" y1="254.31" x2="196.3" y2="254.31" stroke="#888" stroke-width="0.5"/>
<line x1="195" y1="250.09" x2="196.3" y2="250.09" stroke="#888" stroke-width="0.5"/>
<line x1="195" y1="246.82" x2="196.3" y2="246.82" stroke="#888" stroke-width="0.5"/>
<line x1="195" y1="244.15" x2="196.3" y2="244.15" stroke="#888" stroke-width="0.5"/>
<line x1="195" y1="241.89" x2="196.3" y2="241.89" stroke="#888" stroke-width="0.5"/>
<line x1="195" y1="239.94" x2="196.3" y2="239.94" stroke="#888" stroke-width="0.5"/>
<line x1="195" y1="238.21" x2="196.3" y2="238.21" stroke="#888" stroke-width="0.5"/>
<line x1="193.2" y1="236.67" x2="196.8" y2="236.67" stroke="#777" stroke-width="0.6"/>
<line x1="195" y1="226.52" x2="196.3" y2="226.52" stroke="#888" stroke-width="0.5"/>
<line x1="195" y1="220.58" x2="196.3" y2="220.58" stroke="#888" stroke-width="0.5"/>
<line x1="195" y1="216.36" x2="196.3" y2="216.36" stroke="#888" stroke-width="0.5"/>
<line x1="195" y1="213.09" x2="196.3" y2="213.09" stroke="#888" stroke-width="0.5"/>
<line x1="195" y1="210.42" x2="196.3" y2="210.42" stroke="#888" stroke-width="0.5"/>
<line x1="195" y1="208.16" x2="196.3" y2="208.16" stroke="#888" stroke-width="0.5"/>
<line x1="195" y1="206.21" x2="196.3" y2="206.21" stroke="#888" stroke-width="0.5"/>
<line x1="195" y1="204.48" x2="196.3" y2="204.48" stroke="#888" stroke-width="0.5"/>
<line x1="193.2" y1="202.94" x2="196.8" y2="202.94" stroke="#777" stroke-width="0.6"/>
<line x1="195" y1="192.79" x2="196.3" y2="192.79" stroke="#888" stroke-width="0.5"/>
<line x1="195" y1="186.85" x2="196.3" y2="186.85" stroke="#888" stroke-width="0.5"/>
<line x1="195" y1="182.63" x2="196.3" y2="182.63" stroke="#888" stroke-width="0.5"/>
<line x1="195" y1="179.36" x2="196.3" y2="179.36" stroke="#888" stroke-width="0.5"/>
<line x1="195" y1="176.69" x2="196.3" y2="176.69" stroke="#888" stroke-width="0.5"/>
<line x1="195" y1="174.43" x2="196.3" y2="174.43" stroke="#888" stroke-width="0.5"/>
<line x1="195" y1="172.48" x2="196.3" y2="172.48" stroke="#888" stroke-width="0.5"/>
<line x1="195" y1="170.75" x2="196.3" y2="170.75" stroke="#888" stroke-width="0.5"/>
<line x1="193.2" y1="169.21" x2="196.8" y2="169.21" stroke="#777" stroke-width="0.6"/>
<text transform="translate(187.9,270.4) rotate(-90)" font-size="6" text-anchor="middle" font-weight="normal" font-style="normal" fill="#444" dominant-baseline="central">1</text>
<text transform="translate(187.9,236.67) rotate(-90)" font-size="6" text-anchor="middle" font-weight="normal" font-style="normal" fill="#444" dominant-baseline="central">10</text>
<text transform="translate(187.9,202.94) rotate(-90)" font-size="6" text-anchor="middle" font-weight="normal" font-style="normal" fill="#444" dominant-baseline="central">100</text>
<text transform="translate(187.9,169.21) rotate(-90)" font-size="6" text-anchor="middle" font-weight="normal" font-style="normal" fill="#444" dominant-baseline="central">1000</text>
<line x1="200.6" y1="268.8" x2="200.6" y2="270.4" stroke="#666" stroke-width="0.6"/>
<line x1="210.01" y1="268.8" x2="210.01" y2="270.4" stroke="#666" stroke-width="0.6"/>
<line x1="219.42" y1="268.8" x2="219.42" y2="270.4" stroke="#666" stroke-width="0.6"/>
<line x1="228.83" y1="268.8" x2="228.83" y2="270.4" stroke="#666" stroke-width="0.6"/>
<line x1="238.24" y1="268.8" x2="238.24" y2="270.4" stroke="#666" stroke-width="0.6"/>
<line x1="247.65" y1="268.8" x2="247.65" y2="270.4" stroke="#666" stroke-width="0.6"/>
<line x1="257.06" y1="268.8" x2="257.06" y2="270.4" stroke="#666" stroke-width="0.6"/>
<line x1="266.47" y1="268.8" x2="266.47" y2="270.4" stroke="#666" stroke-width="0.6"/>
<line x1="275.88" y1="268.8" x2="275.88" y2="270.4" stroke="#666" stroke-width="0.6"/>
<line x1="285.29" y1="268.8" x2="285.29" y2="270.4" stroke="#666" stroke-width="0.6"/>
<line x1="294.7" y1="268.8" x2="294.7" y2="270.4" stroke="#666" stroke-width="0.6"/>
<line x1="304.11" y1="268.8" x2="304.11" y2="270.4" stroke="#666" stroke-width="0.6"/>
<line x1="313.52" y1="268.8" x2="313.52" y2="270.4" stroke="#666" stroke-width="0.6"/>
<line x1="322.93" y1="268.8" x2="322.93" y2="270.4" stroke="#666" stroke-width="0.6"/>
<line x1="332.34" y1="268.8" x2="332.34" y2="270.4" stroke="#666" stroke-width="0.6"/>
<text x="200.6" y="266.4" font-size="6.3" text-anchor="middle" fill="#444">La</text>
<text x="210.01" y="278.7" font-size="6.3" text-anchor="middle" fill="#444">Ce</text>
<text x="219.42" y="266.4" font-size="6.3" text-anchor="middle" fill="#444">Pr</text>
<text x="228.83" y="278.7" font-size="6.3" text-anchor="middle" fill="#444">Nd</text>
<text x="247.65" y="278.7" font-size="6.3" text-anchor="middle" fill="#444">Sm</text>
<text x="257.06" y="266.4" font-size="6.3" text-anchor="middle" fill="#444">Eu</text>
<text x="266.47" y="278.7" font-size="6.3" text-anchor="middle" fill="#444">Gd</text>
<text x="275.88" y="266.4" font-size="6.3" text-anchor="middle" fill="#444">Tb</text>
<text x="285.29" y="278.7" font-size="6.3" text-anchor="middle" fill="#444">Dy</text>
<text x="294.7" y="266.4" font-size="6.3" text-anchor="middle" fill="#444">Ho</text>
<text x="304.11" y="278.7" font-size="6.3" text-anchor="middle" fill="#444">Er</text>
<text x="313.52" y="266.4" font-size="6.3" text-anchor="middle" fill="#444">Tm</text>
<text x="322.93" y="278.7" font-size="6.3" text-anchor="middle" fill="#444">Yb</text>
<text x="332.34" y="266.4" font-size="6.3" text-anchor="middle" fill="#444">Lu</text>
<text transform="translate(179.6,218.5) rotate(-90)" font-size="5.9" text-anchor="middle" font-weight="bold" font-style="normal" fill="#2a2a2a" dominant-baseline="central" stroke="#2a2a2a" stroke-width="0.22">Rock / REE Chondrite</text>
</svg></body></html>
